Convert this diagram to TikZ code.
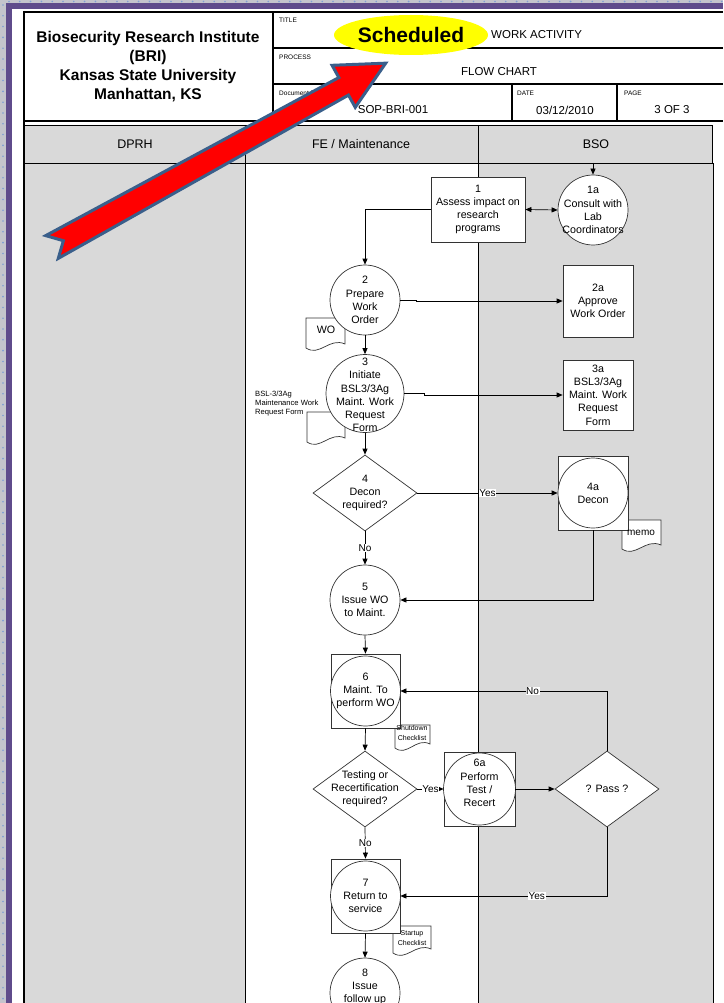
\documentclass[tikz,border=0pt]{standalone}
\usepackage{fontspec}
\setmainfont{Liberation Sans}
\usetikzlibrary{shapes.geometric,arrows.meta,calc}
\definecolor{lanegray}{HTML}{D9D9D9}
\definecolor{framepurple}{HTML}{5F4B8B}
\definecolor{dotgray}{HTML}{C4C4CC}
\definecolor{dotblue}{HTML}{7F9FD4}
\definecolor{arrowblue}{HTML}{3A5F8B}
\definecolor{hiyellow}{HTML}{FFFF00}
\begin{document}
\begin{tikzpicture}[x=1pt,y=-1pt,
  shapeline/.style={draw=black!80, line width=0.7pt},
  circ/.style={shapeline, circle, fill=white, minimum size=70pt, inner sep=0pt},
  sqbox/.style={shapeline, rectangle, fill=white, minimum width=69pt, minimum height=74pt, inner sep=0pt},
  procbox/.style={shapeline, rectangle, fill=white, inner sep=0pt},
  dmd/.style={shapeline, diamond, fill=white, minimum width=104pt, minimum height=76pt, inner sep=0pt},
  txt/.style={font=\fontsize{10.7}{13.2}\selectfont, align=center, inner sep=0pt},
  doctxt/.style={font=\fontsize{7}{9.5}\selectfont, align=center, inner sep=0pt},
  tinylbl/.style={font=\fontsize{6.5}{7}\selectfont, inner sep=0pt, anchor=west},
  hdrtxt/.style={font=\fontsize{11.5}{13}\selectfont, inner sep=0pt},
  lanetxt/.style={font=\fontsize{12.5}{14}\selectfont, inner sep=0pt},
  hdrline/.style={draw=black, line width=2pt},
  laneline/.style={draw=black, line width=0.8pt},
  conn/.style={draw=black, line width=0.7pt},
  arr/.style={conn, -{Triangle[length=6pt,width=5pt]}},
  darr/.style={conn, {Triangle[length=6pt,width=5pt]}-{Triangle[length=6pt,width=5pt]}},
  lbl/.style={fill=white, inner sep=0.6pt, font=\fontsize{10}{12}\selectfont},
]
\useasboundingbox (0,0) rectangle (723,1003);
% ---- outer frame ----
\fill[dotgray] (0,0) rectangle (723,1003);
\foreach \i in {0,...,92} \fill[dotblue] (3,{5+\i*10.8}) circle (0.9pt);
\foreach \i in {0,...,66} \fill[dotblue] ({9+\i*10.8},1.5) circle (0.9pt);
\fill[framepurple] (6,3) rectangle (723,1003);
\fill[white] (12,9) rectangle (723,1003);
% ---- lanes ----
\fill[lanegray] (24,125) rectangle (712,163);
\fill[lanegray] (24,163) rectangle (245,1003);
\fill[lanegray] (478,163) rectangle (713,1003);
\draw[laneline] (24,125) -- (712,125) -- (712,163);
\draw[laneline] (24,163) -- (713,163) -- (713,1003);
\draw[laneline] (245,125) -- (245,1003);
\draw[laneline] (478,125) -- (478,1003);
\node[lanetxt] (lDPRH) at (135,144) {DPRH};
\node[lanetxt] (lFE) at (361,144) {FE / Maintenance};
\node[lanetxt] (lBSO) at (596,144) {BSO};
% ---- header ----
\draw[hdrline] (23.5,12) -- (723,12);
\draw[hdrline] (23.5,121) -- (723,121);
\draw[hdrline] (23.5,11) -- (23.5,1003);
\draw[hdrline] (273,12) -- (273,121);
\draw[hdrline] (273,48) -- (723,48);
\draw[hdrline] (273,84) -- (723,84);
\draw[hdrline] (512,84) -- (512,121);
\draw[hdrline] (617,84) -- (617,121);
\node[font=\bfseries\fontsize{15.5}{19}\selectfont, align=center, inner sep=0pt] (org) at (148,66.5)
  {Biosecurity Research Institute\\(BRI)\\Kansas State University\\Manhattan, KS};
\node[tinylbl] (ltitle) at (279,20) {TITLE};
\node[ellipse, fill=hiyellow, minimum width=154pt, minimum height=40pt, inner sep=0pt,
  font=\bfseries\fontsize{21}{24}\selectfont] (sched) at (411,35) {Scheduled};
\node[hdrtxt, anchor=west] (wact) at (491,34.5) {WORK ACTIVITY};
\node[tinylbl] (lproc) at (279,57) {PROCESS};
\node[hdrtxt] (flow) at (499,72) {FLOW CHART};
\node[tinylbl] (ldoc) at (279,93) {Document No.};
\node[hdrtxt] (sop) at (393,110) {SOP-BRI-001};
\node[tinylbl] (ldate) at (517,93) {DATE};
\node[hdrtxt] (date) at (565,110) {03/12/2010};
\node[tinylbl] (lpage) at (624,93) {PAGE};
\node[hdrtxt] (page) at (672,110) {3 OF 3};
% ---- documents (behind shapes) ----
\newcommand{\mydoc}[4]{\filldraw[shapeline, fill=white] (#1,#2) -- (#3,#2) -- (#3,{#4-4})
  .. controls ({#1+0.6*(#3-#1)},{#4-11}) and ({#1+0.35*(#3-#1)},{#4+9}) .. (#1,#4) -- cycle;}
\mydoc{306}{318}{345}{348}
\mydoc{307}{412}{345}{442}
\mydoc{622}{520}{661}{549}
\mydoc{395}{725}{430}{748}
\mydoc{393}{926}{431}{953}
% ---- nodes ----
\node[procbox, minimum width=94pt, minimum height=65pt] (n1) at (478,209.5) {};
\node[txt] (t1) at (n1) {1\\Assess impact on\\research\\programs};
\node[circ] (n1a) at (593,210) {};
\node[txt] (t1a) at (n1a) {1a\\Consult with\\Lab\\Coordinators};
\node[circ] (n2) at (365,300) {};
\node[txt] (t2) at (n2) {2\\Prepare\\Work\\Order};
\node[procbox, minimum width=70pt, minimum height=72pt] (n2a) at (598,301) {};
\node[txt] (t2a) at (n2a) {2a\\Approve\\Work Order};
\node[circ, minimum size=78pt] (n3) at (365,393.5) {};
\node[txt] (t3) at (365,395) {3\\Initiate\\BSL3/3Ag\\Maint. Work\\Request\\Form};
\node[procbox, minimum width=70pt, minimum height=70pt] (n3a) at (598,395) {};
\node[txt] (t3a) at (n3a) {3a\\BSL3/3Ag\\Maint. Work\\Request\\Form};
\node[dmd] (n4) at (365,493) {};
\node[txt] (t4) at (n4) {4\\Decon\\required?};
\node[sqbox, minimum width=70pt] (n4aq) at (593,493) {};
\node[circ] (n4a) at (593,493) {};
\node[txt] (t4a) at (n4a) {4a\\Decon};
\node[circ] (n5) at (365,600) {};
\node[txt] (t5) at (n5) {5\\Issue WO\\to Maint.};
\node[sqbox] (n6q) at (365.5,691) {};
\node[circ] (n6) at (365.5,691) {};
\node[txt] (t6) at (n6) {6\\Maint. To\\perform WO};
\node[dmd] (ntest) at (365,789) {};
\node[txt] (ttest) at (ntest) {Testing or\\Recertification\\required?};
\node[sqbox, minimum width=71pt] (n6aq) at (479.5,789) {};
\node[circ, minimum size=72pt] (n6a) at (479.5,789) {};
\node[txt] (t6a) at (479.5,783) {6a\\Perform\\Test /\\Recert};
\node[dmd] (npass) at (607,789) {};
\node[txt] (tpass) at (npass) {? Pass ?};
\node[sqbox] (n7q) at (365.5,896) {};
\node[circ] (n7) at (365.5,896) {};
\node[txt] (t7) at (n7) {7\\Return to\\service};
\node[circ] (n8) at (365,993) {};
\node[txt] (t8) at (365,987) {8\\Issue\\follow up};
% ---- document texts (on top) ----
\node[txt] (dWO) at (326,330) {WO};
\node[font=\fontsize{7.6}{9}\selectfont, align=left, inner sep=0pt, anchor=west] (dBSL) at (255,404)
  {BSL-3/3Ag\\Maintenance Work\\Request Form};
\node[font=\fontsize{10}{12}\selectfont, inner sep=0pt] (dmemo) at (641,533) {memo};
\node[doctxt] (dShut) at (412,733) {Shutdown\\Checklist};
\node[doctxt] (dStart) at (412,938) {Startup\\Checklist};
% ---- connectors ----
\coordinate (bsoin) at (593,163);
\draw[arr] (bsoin) -- (n1a.north);
\draw[darr] (n1.east) -- (n1a.west);
\draw[arr] (n1.west) -| (n2.north);
\draw[arr] (n2.east) -- ++(16,0) |- (n2a.west);
\draw[arr] (n2.south) -- (n3.north);
\draw[arr] (n3.east) -- ++(20,0) |- (n3a.west);
\draw[arr] (n3.south) -- (n4.north);
\draw[arr] (n4.east) -- node[lbl]{Yes} (n4aq.west);
\draw[arr] (n4.south) -- node[lbl]{No} (n5.north);
\draw[arr] (n4aq.south) |- (n5.east);
\draw[arr] (n5.south) -- (n6q.north);
\draw[arr] (n6q.south) -- (ntest.north);
\draw[arr] (ntest.east) -- node[lbl]{Yes} (n6aq.west);
\draw[arr] (n6aq.east) -- (npass.west);
\draw[arr] (npass.north) |- node[lbl, pos=0.68]{No} (n6q.east);
\draw[arr] (ntest.south) -- node[lbl]{No} (n7q.north);
\draw[arr] (npass.south) |- node[lbl, pos=0.67]{Yes} (n7q.east);
\draw[arr] (n7q.south) -- (n8.north);
% ---- big arrow ----
\begin{scope}[shift={(52,247)}, rotate=28.85]
\filldraw[fill=red, draw=arrowblue, line width=3pt, line join=miter]
  (0,-13) -- (333,-10) -- (333,-24) -- (381,0) -- (333,24) -- (333,10) -- (0,13) -- (13,0) -- cycle;
\end{scope}
\end{tikzpicture}
\end{document}
